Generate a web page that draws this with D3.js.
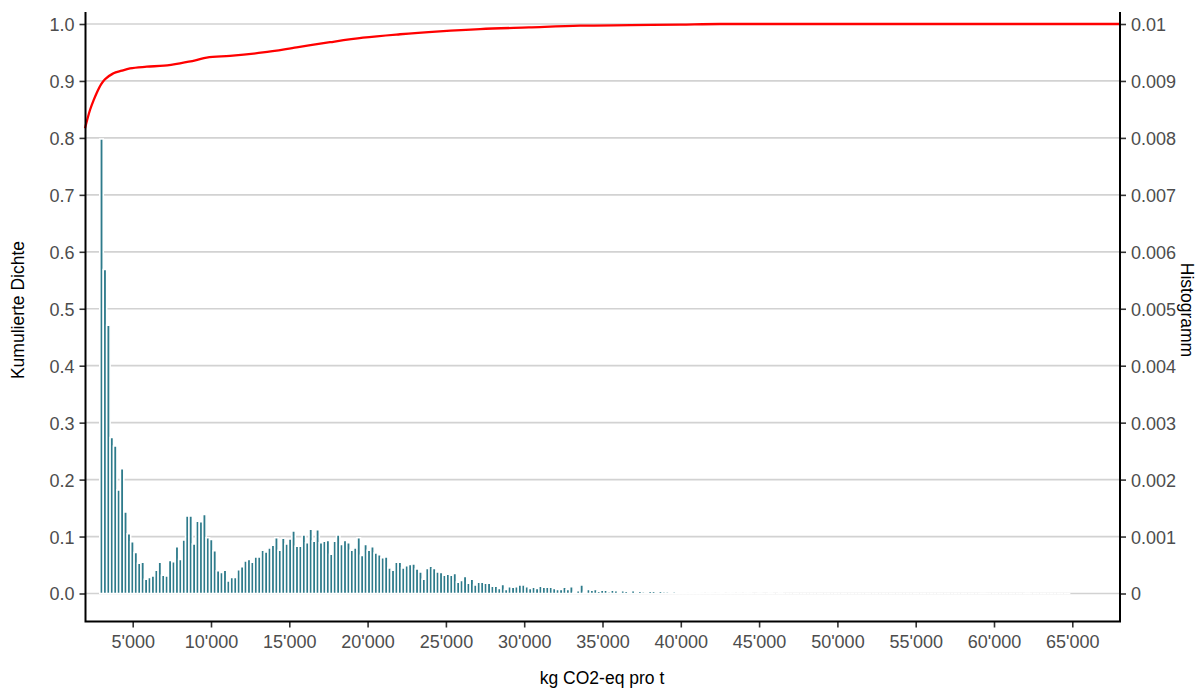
<!DOCTYPE html>
<html>
<head>
<meta charset="utf-8">
<script src="https://cdn.jsdelivr.net/npm/d3@7"></script>
<style>
  html, body { margin: 0; padding: 0; background: #ffffff; }
  svg { display: block; font-family: "Liberation Sans", Arial, sans-serif; }
</style>
</head>
<body>
<svg id="chart" width="1203" height="689"></svg>
<script>
// Histogram of emissions (density per bin, right axis), bins of equal width
const binStart = 2900;
const binWidth = 219;
const histDensity = [
  0.00798, 0.00569, 0.00471, 0.00274, 0.00259, 0.00182, 0.00219, 0.00143, 0.00105, 0.00091,
  0.00072, 0.00053, 0.00055, 0.00025, 0.00028, 0.00031, 0.00041, 0.00055, 0.00032, 0.00031,
  0.00058, 0.00056, 0.00082, 0.00060, 0.00094, 0.00136, 0.00136, 0.00087, 0.00127, 0.00126,
  0.00139, 0.00098, 0.00095, 0.00075, 0.00040, 0.00037, 0.00041, 0.00022, 0.00028, 0.00028,
  0.00042, 0.00047, 0.00057, 0.00060, 0.00055, 0.00064, 0.00064, 0.00076, 0.00073, 0.00080,
  0.00085, 0.00098, 0.00076, 0.00097, 0.00087, 0.00096, 0.00110, 0.00083, 0.00083, 0.00103,
  0.00089, 0.00113, 0.00092, 0.00112, 0.00089, 0.00092, 0.00093, 0.00069, 0.00092, 0.00103,
  0.00086, 0.00093, 0.00089, 0.00076, 0.00080, 0.00098, 0.00067, 0.00086, 0.00076, 0.00082,
  0.00071, 0.00068, 0.00063, 0.00064, 0.00045, 0.00041, 0.00055, 0.00055, 0.00045, 0.00049,
  0.00051, 0.00052, 0.00043, 0.00038, 0.00025, 0.00044, 0.00048, 0.00044, 0.00038, 0.00037,
  0.00032, 0.00034, 0.00032, 0.00035, 0.00020, 0.00023, 0.00030, 0.00018, 0.00025, 0.00015,
  0.00020, 0.00020, 0.00018, 0.00018, 0.00013, 0.00013, 0.00009, 0.00016, 0.00007, 0.00012,
  0.00011, 0.00012, 0.00015, 0.00015, 0.00012, 0.00009, 0.00011, 0.00009, 0.00013, 0.00011,
  0.00011, 0.00011, 0.00009, 0.00007, 0.00007, 0.00011, 0.00007, 0.00012, 0.00002, 0.00005,
  0.00015, 0.00002, 0.00007, 0.00006, 0.00007, 0.00004, 0.00006, 0.00006, 0.00003, 0.00006,
  0.00005, 0.00002, 0.00005, 0.00004, 0.00001, 0.00005, 0.00001, 0.00004, 0.00003, 0.00001,
  0.00004, 0.00004, 0.00001, 0.00004, 0.00003, 0.00003, 0.00002, 0.00003, 0.00002, 0.00002,
  0.00002, 0.00001, 0.00002, 0.00001, 0.00002, 0.00001, 0, 0.00001, 0.00001, 0,
  0.00001, 0.00002, 0, 0.00001, 0.00001, 0, 0.00001, 0, 0.00001, 0.00001,
  0, 0, 0.00001, 0, 0, 0.00001, 0, 0, 0.00001, 0,
  0, 0, 0, 0, 0, 0, 0, 0, 0, 0,
  0, 0, 0, 0, 0, 0, 0, 0, 0, 0,
  0, 0, 0, 0, 0, 0, 0, 0, 0, 0,
  0, 0, 0, 0, 0, 0, 0, 0, 0, 0,
  0, 0, 0, 0, 0, 0, 0, 0, 0, 0,
  0, 0, 0, 0, 0, 0, 0, 0.000005, 0, 0,
  0, 0, 0, 0, 0, 0, 0, 0, 0, 0,
  0.000005, 0, 0, 0, 0, 0, 0, 0, 0, 0,
  0, 0, 0
];

// Cumulative density (left axis)
const cdfX = [1954, 2273, 2500, 2701, 3000, 3231, 3742, 4300, 4828, 5894, 7000, 8020, 9000, 9725,
  11213, 13320, 15472, 17599, 19706, 22069, 24600, 27177, 30300, 33563, 36800, 39948, 42500, 50000, 68046];
const cdfY = [0.817, 0.849, 0.866, 0.879, 0.895, 0.903, 0.913, 0.918, 0.922, 0.925, 0.927, 0.931, 0.936, 0.941,
  0.944, 0.950, 0.959, 0.968, 0.976, 0.982, 0.987, 0.991, 0.994, 0.997, 0.998, 0.999, 1.0, 1.0, 1.0];

const xTicks = [5000, 10000, 15000, 20000, 25000, 30000, 35000, 40000, 45000, 50000, 55000, 60000, 65000];
const leftTicks = [0, 0.1, 0.2, 0.3, 0.4, 0.5, 0.6, 0.7, 0.8, 0.9, 1.0];
const rightTicks = [0, 0.001, 0.002, 0.003, 0.004, 0.005, 0.006, 0.007, 0.008, 0.009, 0.01];
const rightTickLabels = ["0", "0.001", "0.002", "0.003", "0.004", "0.005", "0.006", "0.007", "0.008", "0.009", "0.01"];

const xTitle = "kg CO2-eq pro t";
const yLeftTitle = "Kumulierte Dichte";
const yRightTitle = "Histogramm";

// Layout
const panel = { left: 85.5, right: 1120, top: 12, bottom: 621.5 };
const svg = d3.select("#chart");

const x = d3.scaleLinear().domain([1954, 68046]).range([85, 1120]);
const y = d3.scaleLinear().domain([0, 1]).range([593.5, 24]);
const yHist = d3.scaleLinear().domain([0, 0.01]).range([593.5, 24]);

const swiss = d3.formatLocale({ decimal: ".", thousands: "'", grouping: [3], currency: ["", ""] });
const fmtX = swiss.format(",");

// Horizontal gridlines
svg.append("g")
  .selectAll("line")
  .data(leftTicks)
  .join("line")
  .attr("x1", panel.left).attr("x2", panel.right)
  .attr("y1", d => y(d)).attr("y2", d => y(d))
  .attr("stroke", "#d2d2d2")
  .attr("stroke-width", 1.7);

// Histogram bars with white outlines (paths, so empty bins still draw their outline)
const bins = histDensity.map((v, i) => ({ x0: binStart + i * binWidth, x1: binStart + (i + 1) * binWidth, v }));
svg.append("g")
  .selectAll("path")
  .data(bins)
  .join("path")
  .attr("d", d => {
    const xa = x(d.x0), xb = x(d.x1), y0 = yHist(0), y1 = yHist(d.v);
    return `M${xa},${y0}V${y1}H${xb}V${y0}Z`;
  })
  .attr("fill", "#2e7b8b")
  .attr("stroke", "#ffffff")
  .attr("stroke-width", 1.6);

// Cumulative density curve
const line = d3.line()
  .x(d => x(d[0]))
  .y(d => y(d[1]))
  .curve(d3.curveMonotoneX);
svg.append("path")
  .datum(cdfX.map((v, i) => [v, cdfY[i]]))
  .attr("d", line)
  .attr("fill", "none")
  .attr("stroke", "#ff0000")
  .attr("stroke-width", 2.3);

// Axes
const tickColor = "#333333";
const labelColor = "#4d4d4d";
const fontSize = "18px";

const gx = svg.append("g").attr("transform", `translate(0,${panel.bottom})`)
  .call(d3.axisBottom(x).tickValues(xTicks).tickFormat(fmtX).tickSizeInner(6).tickSizeOuter(0).tickPadding(4));
const gl = svg.append("g").attr("transform", `translate(${panel.left},0)`)
  .call(d3.axisLeft(y).tickValues(leftTicks).tickFormat(d3.format(".1f")).tickSizeInner(6).tickSizeOuter(0).tickPadding(5));
const gr = svg.append("g").attr("transform", `translate(${panel.right},0)`)
  .call(d3.axisRight(yHist).tickValues(rightTicks).tickFormat((d, i) => rightTickLabels[i]).tickSizeInner(6).tickSizeOuter(0).tickPadding(5));

[gx, gl, gr].forEach(g => {
  g.select(".domain").remove();
  g.selectAll(".tick line").attr("stroke", tickColor).attr("stroke-width", 1.6);
  g.selectAll(".tick text").attr("fill", labelColor).style("font-size", fontSize)
    .style("font-family", "'Liberation Sans', Arial, sans-serif");
});
gx.selectAll(".tick text").attr("dy", "0.92em");
gl.selectAll(".tick text").attr("dy", "0.36em");
gr.selectAll(".tick text").attr("dy", "0.36em");

// Axis lines
svg.append("path")
  .attr("d", `M${panel.left},${panel.top}V${panel.bottom}H${panel.right}V${panel.top}`)
  .attr("fill", "none")
  .attr("stroke", "#000000")
  .attr("stroke-width", 2);

// Titles
svg.append("text")
  .attr("x", 602).attr("y", 684)
  .attr("text-anchor", "middle")
  .style("font-size", "17.5px")
  .attr("fill", "#000")
  .text(xTitle);

svg.append("text")
  .attr("transform", "translate(24,310) rotate(-90)")
  .attr("text-anchor", "middle")
  .style("font-size", "17.5px")
  .attr("fill", "#000")
  .text(yLeftTitle);

svg.append("text")
  .attr("transform", "translate(1181,310) rotate(90)")
  .attr("text-anchor", "middle")
  .style("font-size", "17.5px")
  .attr("fill", "#000")
  .text(yRightTitle);
</script>
</body>
</html>
